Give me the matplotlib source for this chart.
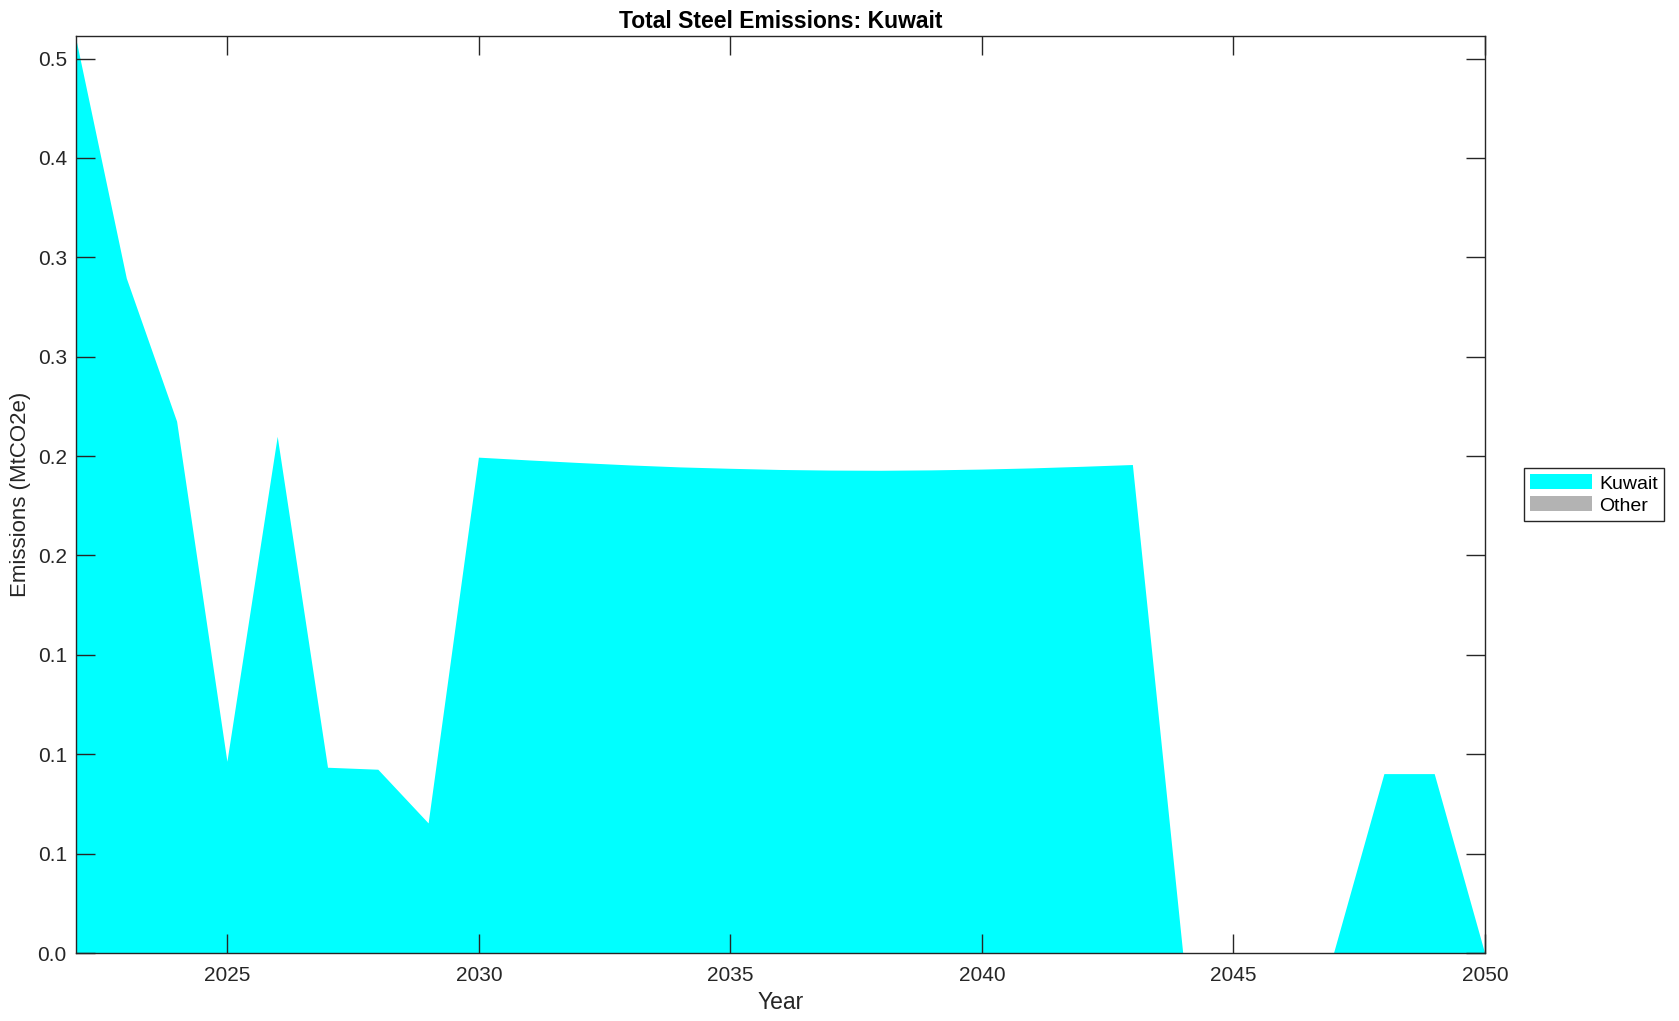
import matplotlib
matplotlib.use("Agg")
import matplotlib.pyplot as plt
from matplotlib.patches import Patch

plt.rcParams['font.family'] = ['Liberation Sans', 'DejaVu Sans']

years = list(range(2022, 2051))
kuwait = [0.4593, 0.3393, 0.2673, 0.0962, 0.2597, 0.0932, 0.0922, 0.0652,
          0.2492, 0.2478, 0.2465, 0.2453, 0.2443, 0.2436, 0.2430, 0.2427,
          0.2426, 0.2428, 0.2432, 0.2438, 0.2446, 0.2455,
          0.0, 0.0, 0.0, 0.0, 0.0900, 0.0900, 0.0]
other = [0.0] * len(years)

series_names = ['Kuwait', 'Other']
series_colors = ['#00FFFF', '#B3B3B3']

x_ticks = [2025, 2030, 2035, 2040, 2045, 2050]
y_ticks = [0.0, 0.05, 0.10, 0.15, 0.20, 0.25, 0.30, 0.35, 0.40, 0.45]
y_tick_labels = ['0.0', '0.1', '0.1', '0.1', '0.2', '0.2', '0.3', '0.3', '0.4', '0.5']

dark = '#262626'

fig = plt.figure(figsize=(16.79, 10.21), dpi=100)
ax = fig.add_axes([0.04556, 0.0666, 0.8389, 0.8981])

ax.stackplot(years, kuwait, other, colors=series_colors, linewidth=0)

ax.set_xlim(2022, 2050)
ax.set_ylim(0, 0.4613)
ax.set_xticks(x_ticks)
ax.set_xticklabels([str(t) for t in x_ticks])
ax.set_yticks(y_ticks)
ax.set_yticklabels(y_tick_labels)

ax.tick_params(direction='in', length=14, width=1, colors=dark, labelsize=15,
               top=True, right=True, labeltop=False, labelright=False)
ax.tick_params(axis='x', pad=9)
ax.tick_params(axis='y', pad=7)
for s in ax.spines.values():
    s.set_color(dark)
    s.set_linewidth(1)

ax.set_xlabel('Year', fontsize=16.5, color=dark, labelpad=5)
ax.set_ylabel('Emissions (MtCO2e)', fontsize=16, color=dark, labelpad=5)
ax.set_title('Total Steel Emissions: Kuwait', fontsize=16.5, fontweight='bold', color='black', pad=6)

handles = [Patch(facecolor=c, edgecolor='none', label=n) for n, c in zip(series_names, series_colors)]
leg = ax.legend(handles=handles, loc='center left', bbox_to_anchor=(1.0277, 0.5),
                borderaxespad=0, fancybox=False, fontsize=14, handlelength=3.2,
                handleheight=0.8, handletextpad=0.35, labelspacing=0.2,
                borderpad=0.32, framealpha=1)
leg.get_frame().set_edgecolor(dark)
leg.get_frame().set_linewidth(1)

fig.savefig('out.png', dpi=100)
